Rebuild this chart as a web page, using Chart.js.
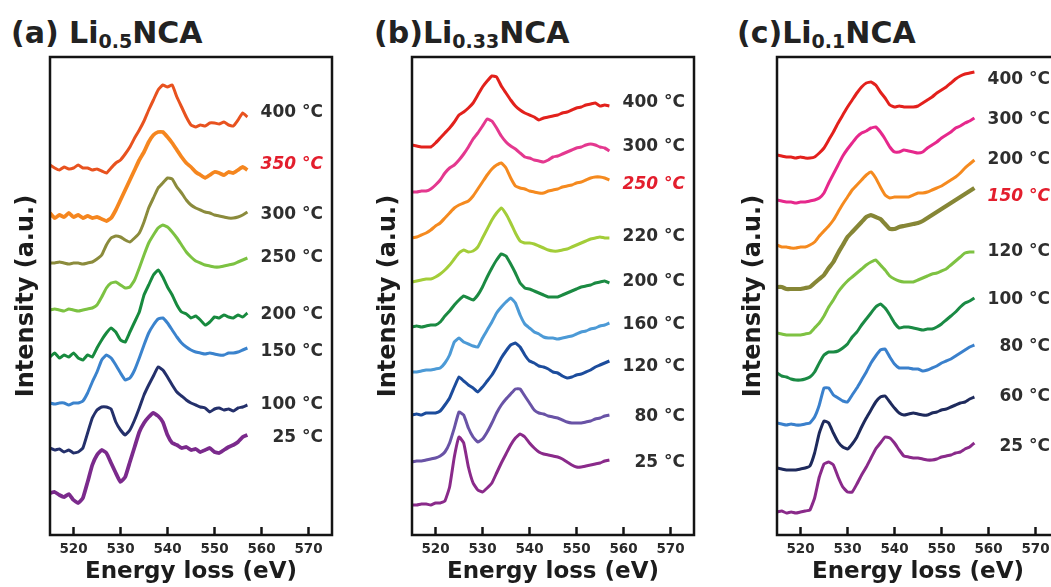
<!DOCTYPE html>
<html>
<head>
<meta charset="utf-8">
<script src="https://cdn.jsdelivr.net/npm/chart.js@4.4.0/dist/chart.umd.min.js"></script>
<style>
    html, body { margin: 0; padding: 0; overflow: hidden; background: #fff; }
    body { position: relative; width: 1051px; height: 587px; }
    canvas { position: absolute; top: 0; }
    .title {
        position: absolute;
        top: 15px;
        font: bold 30px 'DejaVu Sans';
        line-height: 36px;
        color: #222;
        white-space: nowrap;
    }
    .title sub { font-size: 19px; vertical-align: -5px; line-height: 0; }
</style>
</head>
<body>
<div class="title" style="left:11px">(a) Li<sub>0.5</sub>NCA</div>
<div class="title" style="left:374px">(b)Li<sub>0.33</sub>NCA</div>
<div class="title" style="left:737px">(c)Li<sub>0.1</sub>NCA</div>
<canvas id="panelA" width="345" height="587" style="left:0px"></canvas>
<canvas id="panelB" width="345" height="587" style="left:362px"></canvas>
<canvas id="panelC" width="345" height="587" style="left:727px"></canvas>
<script>
/* energy axis (eV), shared by every spectrum */
const energy = [515,516,517,518,519,520,521,522,523,524,525,526,527,528,529,530,531,532,533,534,535,536,537,538,539,540,541,542,543,544,545,546,547,548,549,550,551,552,553,554,555,556,557];
const xTicks = [520, 530, 540, 550, 560, 570];

/* (a) Li0.5NCA - stacked intensities, top to bottom */
const tempsA = ['400 °C', '350 °C', '300 °C', '250 °C', '200 °C', '150 °C', '100 °C', '25 °C'];
const a400 = [370,367,365,368,366,367,370,367,367,365,366,364,362,367,372,375,381,388,397,405,414,425,435,445,450,448,450,438,428,418,410,408,410,409,412,412,411,413,410,409,415,422,418];
const a350 = [322,317,320,318,322,318,320,317,319,317,318,316,314,317,325,335,345,355,365,375,383,393,400,403,403,398,392,385,378,372,368,363,360,357,360,363,362,360,363,362,365,368,365];
const a300 = [272,272,273,272,271,272,272,271,272,273,276,280,290,297,299,298,295,293,297,302,313,327,337,347,352,357,356,348,342,335,330,327,325,323,322,320,319,318,317,317,318,320,323];
const a250 = [225,226,225,224,226,225,224,225,226,227,230,238,247,252,253,250,247,248,255,267,280,292,300,307,310,308,303,297,290,283,278,274,272,270,269,268,268,269,270,271,273,275,277];
const a200 = [178,182,177,180,178,182,177,175,180,178,187,195,202,207,203,195,193,203,213,223,240,250,260,265,258,248,240,230,223,221,217,219,215,210,213,218,217,220,218,217,220,218,222];
const a150 = [132,131,132,132,130,132,132,134,142,153,163,175,180,177,170,162,155,157,165,177,190,202,210,216,217,212,205,198,192,188,185,183,182,181,182,181,180,180,182,182,183,185,187];
const a100 = [87,85,86,83,85,82,83,87,102,117,125,128,128,126,113,105,100,105,115,127,140,150,159,168,165,158,150,143,139,135,132,130,128,127,123,126,127,125,126,124,127,128,130];
const a25 = [42,43,40,38,41,35,32,37,53,70,80,85,82,72,62,53,58,73,88,103,112,118,122,119,113,100,92,90,87,88,85,86,83,85,87,83,82,85,88,90,93,98,100];

/* (b) Li0.33NCA */
const tempsB = ['400 °C', '300 °C', '250 °C', '220 °C', '200 °C', '160 °C', '120 °C', '80 °C', '25 °C'];
const b400 = [390,389,388,388,388,392,397,402,407,413,420,423,427,432,440,448,454,459,458,449,442,435,429,425,422,420,418,415,417,418,419,420,422,423,425,427,428,430,431,432,429,430,429];
const b300 = [343,343,344,344,346,350,355,362,367,370,375,381,388,396,402,409,416,414,407,399,393,389,386,382,378,377,375,374,373,375,378,379,381,383,385,387,388,390,391,390,388,387,384];
const b250 = [297,298,300,302,305,309,312,317,322,327,330,332,334,339,346,353,360,366,370,372,367,357,349,347,346,344,343,342,342,344,345,346,348,349,350,352,353,355,357,358,358,357,355];
const b220 = [253,254,255,256,256,258,261,265,270,276,282,285,283,284,288,297,306,315,322,327,321,312,302,294,292,292,291,289,287,285,284,284,285,286,288,290,292,294,296,297,298,297,297];
const b200 = [208,209,208,209,210,210,213,219,224,230,235,239,237,235,240,248,258,267,275,281,279,271,262,252,247,246,244,242,240,238,238,238,240,242,244,246,248,249,250,252,253,254,252];
const b160 = [163,163,164,165,165,166,167,172,180,193,197,193,191,189,188,197,205,213,222,228,233,237,232,220,211,207,203,201,198,197,197,196,197,198,199,201,203,204,206,207,209,210,212];
const b120 = [120,121,120,122,122,122,124,130,137,148,158,154,150,147,143,148,154,160,168,177,184,190,192,188,180,174,172,169,168,166,163,162,159,157,158,160,161,163,165,168,170,172,174];
const b80 = [73,74,74,75,76,77,79,83,92,107,123,120,107,98,93,96,103,112,122,130,136,141,146,146,139,132,125,122,121,119,118,117,115,113,112,112,112,113,114,116,117,119,120];
const b25 = [30,30,31,31,30,32,32,34,48,78,98,92,68,52,45,43,47,52,62,72,81,90,97,101,98,92,87,83,81,80,79,78,76,73,70,68,68,69,70,71,72,74,75];

/* (c) Li0.1NCA */
const tempsC = ['400 °C', '300 °C', '200 °C', '150 °C', '120 °C', '100 °C', '80 °C', '60 °C', '25 °C'];
const c400 = [380,379,378,378,377,378,377,377,378,382,387,395,403,412,420,428,435,442,448,452,453,450,443,437,430,428,429,428,428,428,429,432,435,438,442,445,448,452,456,459,461,462,463];
const c300 = [335,334,333,333,332,333,333,334,335,337,342,352,361,370,379,386,392,398,402,404,407,408,403,396,388,383,383,385,384,383,382,383,387,390,393,397,400,403,407,409,412,414,417];
const c200 = [290,288,288,287,287,288,288,290,293,299,304,309,315,323,331,338,345,350,355,360,363,357,348,340,337,338,338,338,338,340,342,342,343,345,347,349,352,355,358,362,367,371,375];
const c150 = [248,248,246,246,246,246,247,248,252,256,260,267,273,282,290,298,303,308,313,318,320,318,316,311,306,306,308,309,310,311,312,314,317,320,323,326,329,332,335,338,341,344,347];
const c120 = [202,201,200,200,200,200,201,202,207,212,219,228,235,243,249,254,258,262,266,270,273,275,270,265,259,256,254,253,253,253,255,257,259,261,262,264,266,270,274,278,282,283,283];
const c100 = [162,159,158,156,155,155,156,158,163,172,180,183,183,184,187,191,198,203,210,216,222,228,231,227,220,212,207,208,208,207,206,205,206,206,208,211,215,219,223,228,232,234,237];
const c80 = [112,111,110,111,110,110,111,112,118,130,147,147,140,137,134,133,140,147,155,163,172,179,185,186,178,171,167,167,167,166,166,164,165,167,169,172,174,176,179,182,185,188,190];
const c60 = [67,66,65,65,65,66,67,69,82,102,114,112,102,93,88,86,91,98,108,117,125,133,138,139,133,127,122,120,121,122,121,120,120,122,123,125,126,128,130,132,133,136,138];
const c25 = [23,24,22,23,22,23,24,25,37,58,71,73,70,58,48,43,43,51,60,68,77,86,92,98,97,92,85,79,78,77,77,76,75,75,76,78,79,80,82,83,86,88,92];

/* where each temperature label sits (same units as the spectra) */
const levelsA = [422, 370, 320, 277, 220, 183, 130, 97];
const levelsB = [432, 388, 350, 298, 253, 210, 168, 118, 72];
const levelsC = [455, 415, 375, 338, 283, 235, 188, 138, 88];

const colorsA = ['#e8521f', '#f5861f', '#8b8b3c', '#7cc242', '#178a3e', '#3b83cd', '#24306b', '#7b2a8c'];
const colorsB = ['#e2211c', '#e4388f', '#f58a1f', '#a3cd39', '#1b8a42', '#4c9ad6', '#1c4c9c', '#6953a6', '#8a2a8a'];
const colorsC = ['#e3201c', '#e6288c', '#f58a1f', '#868636', '#7ec242', '#1a8a44', '#3a80cc', '#1e2a5c', '#8a2a8a'];
// the noisier traces look heavier in the figure
const widthsA = [3, 3.8, 3, 3, 3, 3, 3, 3.8];
const widthsB = [3, 3, 3, 3, 3, 3, 3, 3, 3];
const widthsC = [3, 3, 3, 4.2, 3, 3, 3, 3, 3];

Chart.defaults.font.family = "'DejaVu Sans'";

/* box around the plot, inward ticks and the temperature labels */
const framePlugin = {
    id: 'frame',
    afterDatasetsDraw(chart, args, opts) {
        const ctx = chart.ctx;
        const area = chart.chartArea;
        const x = chart.scales.x;
        const y = chart.scales.y;
        ctx.save();
        ctx.strokeStyle = '#141414';
        ctx.lineWidth = 2.5;
        ctx.strokeRect(area.left, area.top, area.right - area.left, area.bottom - area.top);
        xTicks.forEach(function(t) {
            const px = x.getPixelForValue(t);
            ctx.beginPath();
            ctx.moveTo(px, area.bottom);
            ctx.lineTo(px, area.bottom - 8);
            ctx.stroke();
        });
        ctx.textAlign = 'right';
        ctx.textBaseline = 'middle';
        opts.temps.forEach(function(txt, i) {
            if (i == opts.marked) {
                ctx.font = "italic bold 17px 'DejaVu Sans'";
                ctx.fillStyle = '#e31e2d';
            } else {
                ctx.font = "bold 17px 'DejaVu Sans'";
                ctx.fillStyle = '#2e2e2e';
            }
            ctx.fillText(txt, area.right - 9, y.getPixelForValue(opts.levels[i]));
        });
        ctx.restore();
    }
};

function drawPanel(id, series, colors, widths, temps, levels, marked) {
    const datasets = series.map(function(s, i) {
        return {
            data: s.map(function(v, k) { return {x: energy[k], y: v}; }),
            borderColor: colors[i],
            borderWidth: widths[i],
            pointRadius: 0,
            tension: 0.12,
            fill: false
        };
    });
    new Chart(document.getElementById(id), {
        type: 'line',
        data: { datasets: datasets },
        plugins: [framePlugin],
        options: {
            responsive: false,
            animation: false,
            events: [],
            layout: { padding: { top: 57, right: 13, left: 0, bottom: 0 } },
            plugins: {
                legend: { display: false },
                tooltip: { enabled: false },
                frame: { temps: temps, levels: levels, marked: marked }
            },
            scales: {
                x: {
                    type: 'linear',
                    min: 515,
                    max: 575,
                    afterBuildTicks: function(s) {
                        s.ticks = xTicks.map(function(v) { return {value: v}; });
                    },
                    afterFit: function(s) { s.height = 52; },
                    grid: { display: false, drawTicks: false },
                    border: { display: false },
                    ticks: {
                        padding: 6,
                        maxRotation: 0,
                        color: '#2a2a2a',
                        font: { size: 13.5, weight: 'bold' }
                    },
                    title: {
                        display: true,
                        text: 'Energy loss (eV)',
                        color: '#1c1c1c',
                        font: { size: 23, weight: 'bold' },
                        padding: { top: 0, bottom: 1 }
                    }
                },
                y: {
                    min: 0,
                    max: 478,
                    afterFit: function(s) { s.width = 50; },
                    grid: { display: false, drawTicks: false },
                    border: { display: false },
                    ticks: { display: false },
                    title: {
                        display: true,
                        text: 'Intensity (a.u.)',
                        color: '#1c1c1c',
                        font: { size: 24, weight: 'bold' },
                        padding: { top: 12, bottom: 0 }
                    }
                }
            }
        }
    });
}

drawPanel('panelA', [a400, a350, a300, a250, a200, a150, a100, a25], colorsA, widthsA, tempsA, levelsA, 1);
drawPanel('panelB', [b400, b300, b250, b220, b200, b160, b120, b80, b25], colorsB, widthsB, tempsB, levelsB, 2);
drawPanel('panelC', [c400, c300, c200, c150, c120, c100, c80, c60, c25], colorsC, widthsC, tempsC, levelsC, 3);
</script>
</body>
</html>
